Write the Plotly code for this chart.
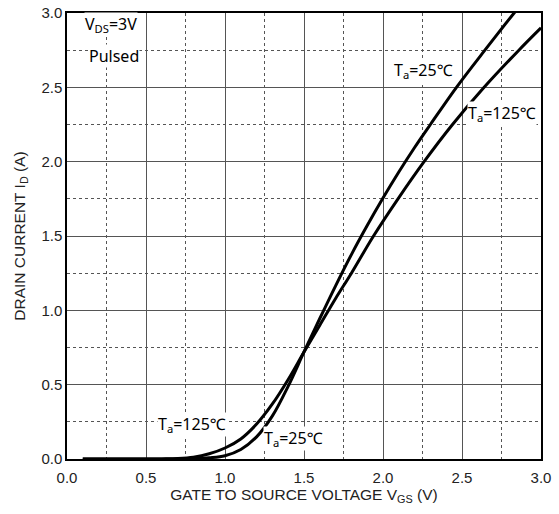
import plotly.graph_objects as go

vgs_25 = [0.1, 0.6, 0.7, 0.8, 0.9, 1.0, 1.1, 1.2, 1.3, 1.4, 1.5, 1.6, 1.7, 1.8, 1.9, 2.0, 2.1, 2.2, 2.3, 2.465, 2.645, 2.83, 2.87]
id_25 = [0.0, 0.0, 0.0005, 0.002, 0.008, 0.022, 0.064, 0.149, 0.29, 0.49, 0.72, 0.945, 1.165, 1.375, 1.57, 1.755, 1.93, 2.095, 2.25, 2.5, 2.75, 3.0, 3.05]

vgs_125 = [0.1, 0.5, 0.6, 0.7, 0.8, 0.9, 1.0, 1.1, 1.2, 1.3, 1.4, 1.5, 1.6, 1.7, 1.8, 1.94, 2.095, 2.26, 2.44, 2.64, 2.86, 3.0]
id_125 = [0.0, 0.0, 0.0008, 0.003, 0.012, 0.035, 0.074, 0.135, 0.235, 0.37, 0.535, 0.72, 0.9, 1.08, 1.25, 1.5, 1.75, 2.0, 2.25, 2.5, 2.75, 2.9]

tick_vals = [0.0, 0.5, 1.0, 1.5, 2.0, 2.5, 3.0]
tick_text = ["0.0", "0.5", "1.0", "1.5", "2.0", "2.5", "3.0"]

fig = go.Figure()
fig.add_trace(go.Scatter(x=vgs_25, y=id_25, mode="lines",
                         line=dict(color="black", width=3, shape="spline", smoothing=1.0), showlegend=False))
fig.add_trace(go.Scatter(x=vgs_125, y=id_125, mode="lines",
                         line=dict(color="black", width=3, shape="spline", smoothing=1.0), showlegend=False))

axis_common = dict(
    range=[0, 3], tickvals=tick_vals, ticktext=tick_text, automargin=False,
    showgrid=True, gridcolor="#555", gridwidth=1,
    minor=dict(dtick=0.25, tick0=0, showgrid=True, gridcolor="#555", gridwidth=1, griddash="dot"),
    showline=True, linecolor="black", linewidth=1.5, mirror=True,
    ticks="", zeroline=False,
    tickfont=dict(family="Liberation Sans, Arial", size=15, color="#222"),
    title_font=dict(family="Liberation Sans, Arial", size=15.5, color="#222"),
)

fig.update_xaxes(**axis_common, title_text="GATE TO SOURCE VOLTAGE V<sub>GS</sub> (V)",
                 title_standoff=2, ticklabelstandoff=4)
fig.update_yaxes(**axis_common, title_text="DRAIN CURRENT I<sub>D</sub> (A)", title_standoff=12)

ann_font = dict(family="Noto Sans, Open Sans", size=16, color="black")
anns = [
    (0.11, 2.92, "V<sub>DS</sub>=3V", "left"),
    (0.13, 2.71, "Pulsed", "left"),
    (2.45, 2.61, "T<sub>a</sub>=25℃", "right"),
    (2.53, 2.325, "T<sub>a</sub>=125℃", "left"),
    (0.57, 0.23, "T<sub>a</sub>=125℃", "left"),
    (1.24, 0.14, "T<sub>a</sub>=25℃", "left"),
]
for x, y, t, xa in anns:
    fig.add_annotation(x=x, y=y, text=t, showarrow=False, xanchor=xa, yanchor="middle",
                       font=ann_font, bgcolor="white", borderpad=0)

fig.update_layout(
    width=559, height=514,
    margin=dict(l=67, r=18, t=13, b=55),
    plot_bgcolor="white", paper_bgcolor="white",
)

fig.write_html("out.html")
